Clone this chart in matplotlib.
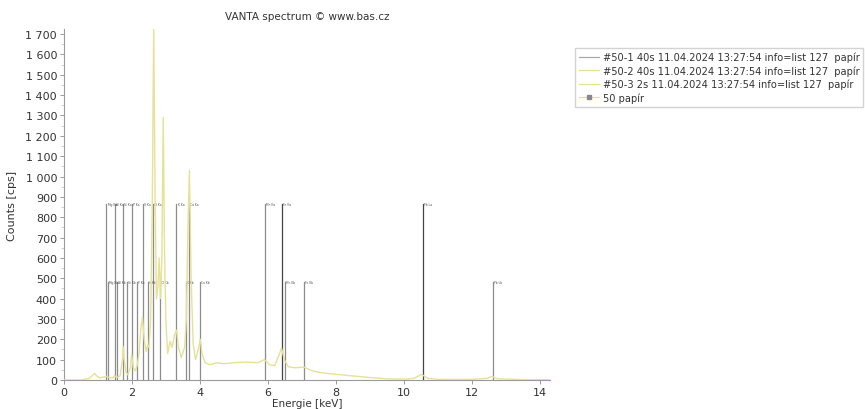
import matplotlib
matplotlib.use("Agg")
import matplotlib.pyplot as plt
from matplotlib.lines import Line2D
from matplotlib.ticker import FuncFormatter, MultipleLocator

# spectrum #50-2 (counts per second vs. energy)
energy_kev = [0.00, 0.50, 0.60, 0.75, 0.85, 0.90, 0.95, 1.05, 1.15, 1.25,
              1.35, 1.45, 1.49, 1.55, 1.65, 1.72, 1.74, 1.77, 1.82, 1.88,
              1.95, 1.99, 2.04, 2.10, 2.15, 2.20, 2.26, 2.31, 2.36, 2.42,
              2.46, 2.50, 2.55, 2.60, 2.64, 2.68, 2.72, 2.76, 2.80, 2.84,
              2.88, 2.92, 2.96, 3.00, 3.05, 3.12, 3.18, 3.25, 3.31, 3.37,
              3.45, 3.55, 3.60, 3.64, 3.69, 3.74, 3.80, 3.87, 3.95, 4.01,
              4.06, 4.15, 4.30, 4.50, 4.70, 5.00, 5.40, 5.70, 5.90, 6.05,
              6.20, 6.32, 6.40, 6.48, 6.60, 6.80, 7.06, 7.30, 7.60, 8.00,
              8.50, 9.00, 9.50, 10.00, 10.30, 10.52, 10.70, 11.00, 12.00, 12.45,
              12.60, 12.75, 13.50, 14.30]
counts_cps = [0, 0, 3, 8, 25, 32, 22, 10, 14, 18,
              10, 12, 22, 12, 20, 100, 165, 100, 40, 25,
              60, 125, 60, 45, 70, 120, 250, 310, 200, 140,
              170, 160, 300, 900, 1740, 900, 400, 450, 600, 400,
              600, 1290, 600, 280, 130, 190, 160, 220, 245, 160,
              110, 160, 300, 700, 1030, 500, 180, 100, 150, 200,
              130, 85, 75, 85, 80, 85, 88, 85, 100, 75,
              70, 120, 158, 100, 65, 60, 63, 45, 35, 28,
              20, 12, 6, 4, 8, 28, 8, 3, 3, 8,
              18, 6, 2, 1]

# element lines: alpha / L-alpha (upper row) and beta (lower row)
alpha_energy = [1.25, 1.49, 1.74, 2.01, 2.31, 2.62, 3.31, 3.69, 5.90, 6.40, 10.55]
alpha_label = ["Mg Ka", "Al Ka", "Si Ka", "P Ka", "S Ka", "Cl Ka",
               "K Ka", "Ca Ka", "Mn Ka", "Fe Ka", "Pb La"]
beta_energy = [1.30, 1.56, 1.84, 2.14, 2.46, 2.82, 3.59, 4.01, 6.49, 7.06, 12.61]
beta_label = ["Mg Kb", "Al Kb", "Si Kb", "P Kb", "S Kb", "Cl Kb",
              "K Kb", "Ca Kb", "Mn Kb", "Fe Kb", "Pb Lb"]
alpha_height = 865
beta_height = 480
dark_lines = ["Fe Ka", "Pb La"]

series_names = ["#50-1 40s 11.04.2024 13:27:54 info=list 127  papír",
                "#50-2 40s 11.04.2024 13:27:54 info=list 127  papír",
                "#50-3 2s 11.04.2024 13:27:54 info=list 127  papír",
                "50 papír"]

spec_color = "#e6e196"

fig = plt.figure(figsize=(8.65, 4.10), dpi=100)
ax = fig.add_axes([64 / 865, 29 / 410, 486 / 865, 351 / 410])

for e, lab in zip(alpha_energy, alpha_label):
    col = "#444444" if lab in dark_lines else "#8c8c8c"
    ax.plot([e, e], [0, alpha_height], color=col, lw=0.9, zorder=2)
    ax.text(e + 0.03, alpha_height, lab, fontsize=2.2, color="#555555",
            va="center", ha="left")
for e, lab in zip(beta_energy, beta_label):
    ax.plot([e, e], [0, beta_height], color="#8c8c8c", lw=0.9, zorder=2)
    ax.text(e + 0.03, beta_height, lab, fontsize=2.2, color="#555555",
            va="center", ha="left")

ax.plot(energy_kev, counts_cps, color=spec_color, lw=1.0, zorder=3)

ax.set_xlim(0, 14.3)
ax.set_ylim(0, 1725)
ax.xaxis.set_major_locator(MultipleLocator(2))
ax.yaxis.set_major_locator(MultipleLocator(100))
ax.yaxis.set_minor_locator(MultipleLocator(50))
ax.yaxis.set_major_formatter(FuncFormatter(lambda v, p: f"{int(v):,}".replace(",", " ")))

for s in ["top", "right"]:
    ax.spines[s].set_visible(False)
for s in ["left", "bottom"]:
    ax.spines[s].set_color("#9a9a9a")
    ax.spines[s].set_linewidth(0.8)
ax.tick_params(axis="both", labelsize=8, colors="#9a9a9a", labelcolor="#333333",
               length=3, width=0.7, pad=2)
ax.tick_params(axis="y", which="minor", length=2, width=0.5, colors="#bbbbbb")

ax.set_xlabel("Energie [keV]", fontsize=7.5, color="#333333", labelpad=1)
ax.set_ylabel("Counts [cps]", fontsize=8, color="#333333", labelpad=6)
fig.text(307 / 865, 1 - 17 / 410, "VANTA spectrum © www.bas.cz", fontsize=7.5,
         color="#333333", ha="center", va="center")

handles = [Line2D([], [], color="#a8a8a8", lw=0.9),
           Line2D([], [], color=spec_color, lw=0.9),
           Line2D([], [], color=spec_color, lw=0.9),
           Line2D([], [], color=spec_color, lw=0.9, marker="s", markersize=2.5,
                  markerfacecolor="#888888", markeredgecolor="#888888",
                  markevery=[0])]
fig.legend(handles, series_names, loc="upper left",
           bbox_to_anchor=(575 / 865, 1 - 49 / 410), fontsize=7.1,
           frameon=True, fancybox=False, edgecolor="#c8c8c8",
           handlelength=2.0, handletextpad=0.4, labelspacing=0.3,
           borderpad=0.4, borderaxespad=0, labelcolor="#333333")

fig.savefig("out.png", dpi=100)
